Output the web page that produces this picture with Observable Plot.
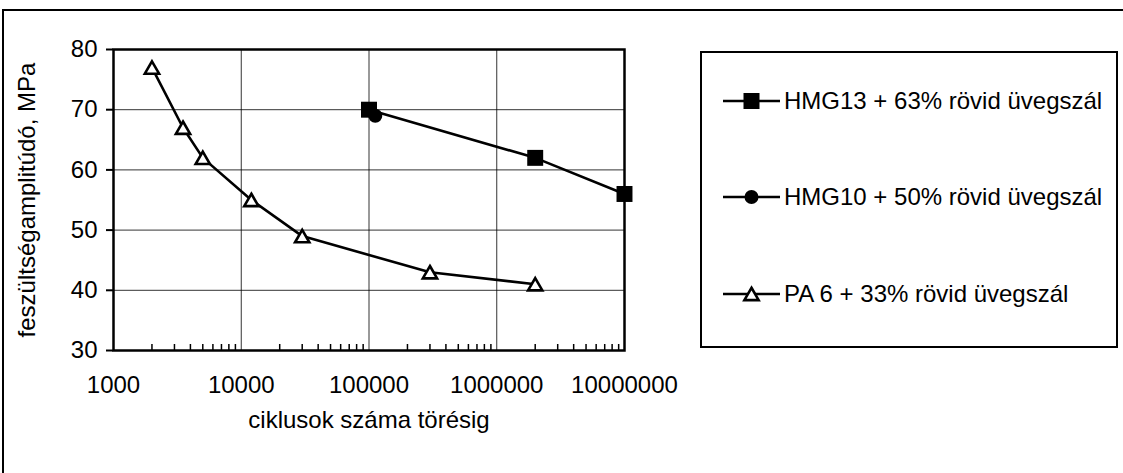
<!DOCTYPE html>
<html>
<head>
<meta charset="utf-8">
<script src="https://cdn.jsdelivr.net/npm/d3@7"></script>
<script src="https://cdn.jsdelivr.net/npm/@observablehq/plot@0.6"></script>
<style>
  html, body { margin: 0; padding: 0; background: #fff; }
  #wrap { position: relative; width: 1123px; height: 473px; overflow: hidden; background: #fff;
          font-family: "Liberation Sans", Arial, sans-serif; }
  #chart { position: absolute; left: 0; top: 0; }
  #outer { position: absolute; left: 2px; top: 9px; width: 1300px; height: 700px;
           border: 2px solid #000; box-sizing: border-box; pointer-events: none; }
  #legend { position: absolute; left: 700px; top: 51px; width: 418px; height: 297px;
            border: 2.5px solid #000; box-sizing: border-box; }
  .row { position: absolute; left: 21px; height: 30px; display: flex; align-items: center;
         font-size: 24px; color: #000; white-space: nowrap; }
  .row span { margin-left: 4px; }
</style>
</head>
<body>
<div id="wrap">
  <div id="chart"></div>
  <div id="legend"></div>
  <div id="outer"></div>
</div>
<script>
// ---- data ----
const xTicks = [1000, 10000, 100000, 1000000, 10000000];
const yTicks = [30, 40, 50, 60, 70, 80];

const hmg13Name = "HMG13 + 63% rövid üvegszál";
const hmg13Cycles = [100000, 2000000, 10000000];
const hmg13Stress = [70, 62, 56];

const hmg10Name = "HMG10 + 50% rövid üvegszál";
const hmg10Cycles = [112000];
const hmg10Stress = [69];

const pa6Name = "PA 6 + 33% rövid üvegszál";
const pa6Cycles = [2000, 3500, 5000, 12000, 30000, 300000, 2000000];
const pa6Stress = [77, 67, 62, 55, 49, 43, 41];

const xTitle = "ciklusok száma törésig";
const yTitle = "feszültségamplitúdó, MPa";

// ---- build tables ----
const toRows = (xs, ys) => xs.map((x, i) => ({x, y: ys[i]}));
const hmg13 = toRows(hmg13Cycles, hmg13Stress);
const hmg10 = toRows(hmg10Cycles, hmg10Stress);
const pa6 = toRows(pa6Cycles, pa6Stress);

// minor (2..9) log ticks on the x axis
const minorTicks = [];
for (let k = 0; k < xTicks.length - 1; k++) {
  for (let m = 2; m <= 9; m++) minorTicks.push(m * xTicks[k]);
}

const W = 700, H = 473, mL = 113, mR = 76, mT = 49, mB = 123;
const frameH = H - mT - mB;
const triR = 5.3;

const chart = Plot.plot({
  width: W,
  height: H,
  marginLeft: mL,
  marginRight: mR,
  marginTop: mT,
  marginBottom: mB,
  style: {background: "transparent", fontFamily: "Liberation Sans, Arial, sans-serif", fontSize: "24px", color: "#000"},
  x: {type: "log", domain: [xTicks[0], xTicks[xTicks.length - 1]]},
  y: {domain: [yTicks[0], yTicks[yTicks.length - 1]]},
  marks: [
    Plot.gridX(xTicks, {stroke: "#000", strokeOpacity: 0.8, strokeWidth: 1}),
    Plot.gridY(yTicks, {stroke: "#000", strokeOpacity: 0.8, strokeWidth: 1}),
    Plot.tickX(minorTicks, {x: d => d, insetTop: frameH - 6, stroke: "#000", strokeWidth: 1.5}),
    Plot.axisX({ticks: xTicks, tickFormat: d3.format("d"), tickSize: 0, tickPadding: 25, label: null}),
    Plot.axisY({ticks: yTicks, tickSize: 7, tickPadding: 9, strokeWidth: 2, label: null}),
    Plot.text([xTitle], {text: d => d, frameAnchor: "bottom", textAnchor: "middle", dy: 77.5, fill: "#000"}),
    Plot.text([yTitle], {text: d => d, frameAnchor: "left", textAnchor: "middle", rotate: -90, dx: -86.5, fill: "#000"}),
    Plot.frame({stroke: "#000", strokeWidth: 2.5}),
    Plot.line(pa6, {x: "x", y: "y", stroke: "#000", strokeWidth: 2.6}),
    Plot.line(hmg13, {x: "x", y: "y", stroke: "#000", strokeWidth: 2.6}),
    Plot.line(hmg10, {x: "x", y: "y", stroke: "#000", strokeWidth: 2.6}),
    Plot.dot(hmg10, {x: "x", y: "y", symbol: "circle", r: 7, fill: "#000", stroke: "none"}),
    Plot.dot(hmg13, {x: "x", y: "y", symbol: "square", r: 9, fill: "#000", stroke: "none"}),
    Plot.dot(pa6, {x: "x", y: "y", symbol: "triangle", r: triR, dy: 2, fill: "#fff", stroke: "#000", strokeWidth: 2.6})
  ]
});
document.getElementById("chart").appendChild(chart);

// ---- legend (right box) ----
const legendItems = [
  {name: hmg13Name, symbol: "square", cy: 101.5},
  {name: hmg10Name, symbol: "circle", cy: 197},
  {name: pa6Name, symbol: "triangle", cy: 294}
];
const legend = document.getElementById("legend");
const boxTop = 51;
for (const it of legendItems) {
  const row = document.createElement("div");
  row.className = "row";
  row.style.top = (it.cy - boxTop - 2.5 - 15) + "px";
  const sw = 57, sh = 30;
  let marker = "";
  if (it.symbol === "square") {
    marker = `<rect x="${sw/2 - 8}" y="${sh/2 - 8}" width="16" height="16" fill="#000"/>`;
  } else if (it.symbol === "circle") {
    marker = `<circle cx="${sw/2}" cy="${sh/2}" r="7" fill="#000"/>`;
  } else {
    const p = d3.symbol(d3.symbolTriangle, Math.PI * triR * triR)();
    marker = `<path d="${p}" transform="translate(${sw/2},${sh/2 + 2})" fill="#fff" stroke="#000" stroke-width="2.6"/>`;
  }
  row.innerHTML = `<svg width="${sw}" height="${sh}"><line x1="0" x2="${sw}" y1="${sh/2}" y2="${sh/2}" stroke="#000" stroke-width="2.6"/>${marker}</svg><span>${it.name}</span>`;
  legend.appendChild(row);
}
</script>
</body>
</html>
